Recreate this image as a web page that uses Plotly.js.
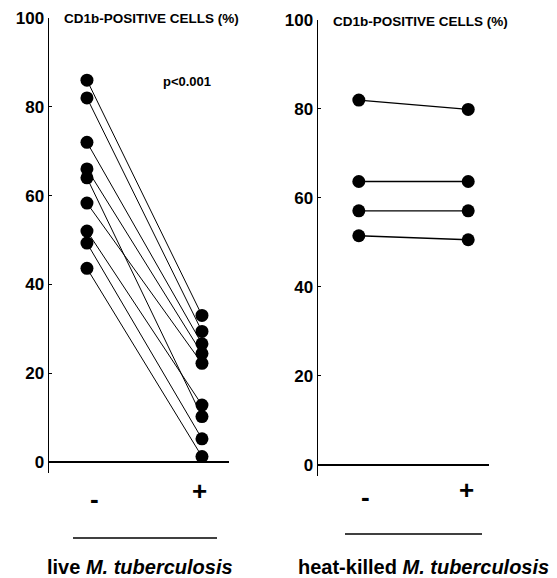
<!DOCTYPE html>
<html>
<head>
<meta charset="utf-8">
<script src="https://cdn.plot.ly/plotly-3.0.1.min.js"></script>
<style>html,body{margin:0;padding:0;background:#fff;}#chart{width:557px;height:578px;}</style>
</head>
<body>
<div id="chart"></div>
<script>
// Data
var conditionX = [0, 1];
var conditionLabels = ["-", "+"];
var liveMinus = [86, 82, 72, 66, 64, 58.3, 52, 49.3, 43.6];
var livePlus  = [33, 29.4, 26.6, 24.4, 10.2, 22.2, 12.8, 5.2, 1.2];
var heatMinus = [82, 63.7, 57.1, 51.5];
var heatPlus  = [79.9, 63.7, 57.1, 50.6];
var yTicks = [0, 20, 40, 60, 80, 100];
var yTitle = "CD1b-POSITIVE CELLS (%)";
var pText = "p<0.001";
var groupLabels = ["live <i>M. tuberculosis</i>", "heat-killed <i>M. tuberculosis</i>"];

var FONT = "Liberation Sans, Arial, Helvetica, sans-serif";
var traces = [];
function addPairs(minus, plus, xa, ya, lw) {
  for (var i = 0; i < minus.length; i++) {
    traces.push({
      x: conditionX, y: [minus[i], plus[i]],
      xaxis: xa, yaxis: ya,
      mode: "lines+markers", type: "scatter",
      line: {color: "#000", width: lw},
      marker: {color: "#000", size: 13},
      hoverinfo: "skip", cliponaxis: false
    });
  }
}
addPairs(liveMinus, livePlus, "x", "y", 1);
addPairs(heatMinus, heatPlus, "x2", "y2", 1.3);

function yAxis(domain, anchor) {
  return {
    domain: domain, range: [-2.5, 100], anchor: anchor,
    tickmode: "array", tickvals: yTicks,
    ticktext: yTicks.map(function (v) { return "<b>" + v + "</b>"; }),
    showgrid: false, showline: true, linecolor: "#000", linewidth: 1.5,
    zeroline: true, zerolinecolor: "#000", zerolinewidth: 1.5,
    ticks: "inside", ticklen: 3, tickwidth: 1, tickcolor: "#000",
    tickfont: {family: FONT, size: 17, color: "#000"},
    fixedrange: true
  };
}
function xAxis(domain, range, anchor) {
  return {
    domain: domain, range: range, anchor: anchor,
    showgrid: false, zeroline: false, showline: false,
    showticklabels: false, ticks: "", fixedrange: true
  };
}

var W = 557, H = 578;
var annotations = [];
function txt(x, y, xref, yref, text, size, xanchor, xshift) {
  annotations.push({
    x: x, y: y, xref: xref, yref: yref, text: "<b>" + text + "</b>", showarrow: false,
    xanchor: xanchor || "center", yanchor: "middle", xshift: xshift || 0,
    borderpad: 0,
    font: {family: FONT, size: size, color: "#000"}
  });
}
txt(63 / W, 1 - 19 / H, "paper", "paper", yTitle, 13.5, "left");
txt(332 / W, 1 - 21 / H, "paper", "paper", yTitle, 13.5, "left");
txt(187 / W, 1 - 81 / H, "paper", "paper", pText, 13);
// condition labels under each panel
txt(conditionX[0], 1 - 499 / H, "x", "paper", conditionLabels[0], 26, "center", 8);
txt(conditionX[1], 1 - 491 / H, "x", "paper", conditionLabels[1], 26, "center", -2);
txt(conditionX[0], 1 - 497 / H, "x2", "paper", conditionLabels[0], 26, "center", 7);
txt(conditionX[1], 1 - 490 / H, "x2", "paper", conditionLabels[1], 26, "center", -2);
txt(140 / W, 1 - 567 / H, "paper", "paper", groupLabels[0], 20);
txt(423 / W, 1 - 567 / H, "paper", "paper", groupLabels[1], 20);

var shapes = [
  {type: "line", xref: "paper", yref: "paper", x0: 73 / W, x1: 217 / W, y0: 1 - 538 / H, y1: 1 - 538 / H, line: {color: "#000", width: 1.5}},
  {type: "line", xref: "paper", yref: "paper", x0: 345 / W, x1: 482 / W, y0: 1 - 534 / H, y1: 1 - 534 / H, line: {color: "#000", width: 1.5}}
];

var layout = {
  width: W, height: H,
  margin: {l: 0, r: 0, t: 0, b: 0},
  paper_bgcolor: "#fff", plot_bgcolor: "#fff",
  showlegend: false,
  xaxis: xAxis([49 / W, 229 / W], [-0.33, 1.235], "y"),
  yaxis: yAxis([1 - 473 / H, 1 - 18 / H], "x"),
  xaxis2: xAxis([318 / W, 489 / W], [-0.373, 1.19], "y2"),
  yaxis2: yAxis([1 - 476 / H, 1 - 20 / H], "x2"),
  annotations: annotations,
  shapes: shapes
};
Plotly.newPlot("chart", traces, layout, {staticPlot: true, displayModeBar: false});
</script>
</body>
</html>
